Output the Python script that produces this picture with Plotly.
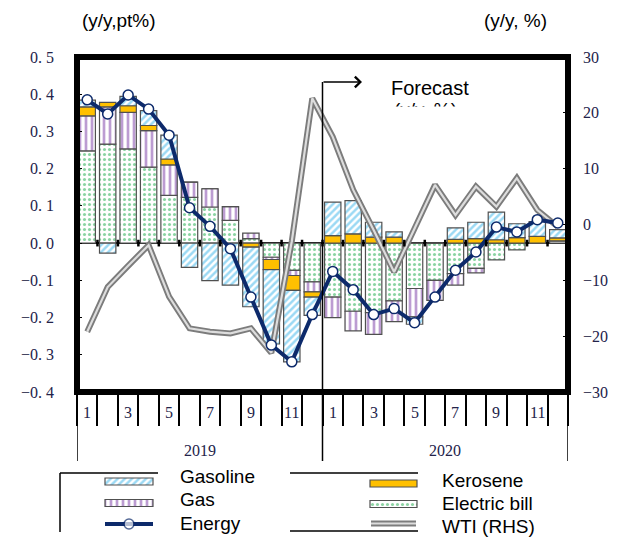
import plotly.graph_objects as go

W, H = 620, 543

# ---------------- data ----------------
year_labels = ["2019", "2020"]
month_numbers = [1, 2, 3, 4, 5, 6, 7, 8, 9, 10, 11, 12]

gasoline = [0.018, -0.027, 0.025, 0.040, 0.064, -0.065, -0.101, -0.113, -0.160, -0.200, -0.192, -0.049,
            0.090, 0.089, 0.040, 0.014, -0.020, 0.000, 0.031, 0.044, 0.074, 0.037, 0.040, 0.022]
kerosene = [0.024, 0.012, 0.018, 0.014, 0.016, 0.000, 0.000, 0.000, -0.011, -0.027, -0.040, -0.014,
            0.020, 0.025, 0.016, 0.016, 0.000, 0.000, 0.010, 0.012, 0.009, 0.015, 0.018, 0.008]
gas = [0.094, 0.100, 0.098, 0.098, 0.082, 0.041, 0.049, 0.037, 0.015, -0.006, -0.014, -0.027,
       -0.055, -0.053, -0.058, -0.056, -0.076, -0.054, -0.031, -0.012, 0.000, 0.000, 0.000, 0.000]
electric = [0.248, 0.266, 0.253, 0.204, 0.128, 0.123, 0.097, 0.061, 0.012, -0.038, -0.073, -0.104,
            -0.145, -0.183, -0.187, -0.155, -0.122, -0.100, -0.082, -0.068, -0.045, -0.018, 0.000, 0.006]
energy = [0.385, 0.347, 0.398, 0.360, 0.290, 0.095, 0.045, -0.015, -0.145, -0.274, -0.319, -0.192,
          -0.076, -0.125, -0.192, -0.176, -0.214, -0.145, -0.073, -0.024, 0.043, 0.030, 0.063, 0.054]
wti = [-19.2, -11.2, -7.4, -3.7, -12.9, -18.6, -19.2, -19.5, -18.6, -23.0, -3.0, 22.6,
       15.7, 6.2, -1.0, -8.5, -0.7, 7.1, 1.7, 6.8, 3.2, 8.3, 2.6, -0.4]

left_ticks = [0.5, 0.4, 0.3, 0.2, 0.1, 0.0, -0.1, -0.2, -0.3, -0.4]
right_ticks = [30, 20, 10, 0, -10, -20, -30]

# ---------------- helpers ----------------
def px(xp):
    return xp / W


def py(yp):
    return 1 - yp / H


SANS = "Liberation Sans, Arial, sans-serif"
SERIF = "Liberation Serif, Times New Roman, serif"
TICKC = "#23234a"
CYAN = "#38b4ea"
PURPLE = "#7a3aa6"
YELLOW = "#ffc000"
GREEN = "#18a845"
NAVY = "#0d2a6b"
OUT = "#505050"
GREY = "#7c7c7c"
GREY_IN = "#dddddd"

n = len(energy)
xs = list(range(n))

styles = {
    "Gasoline": dict(color=CYAN, pattern=dict(shape="/", fgcolor=CYAN, bgcolor="white", size=5, solidity=0.5),
                     line=dict(color=OUT, width=1.2)),
    "Gas": dict(color=PURPLE, pattern=dict(shape="|", fgcolor=PURPLE, bgcolor="white", size=6, solidity=0.45),
                line=dict(color=OUT, width=1.2)),
    "Kerosene": dict(color=YELLOW, line=dict(color=OUT, width=1.2)),
    "Electric bill": dict(color=GREEN, pattern=dict(shape=".", fgcolor=GREEN, bgcolor="white", size=5, solidity=0.3),
                          line=dict(color=OUT, width=1.2)),
}

fig = go.Figure()

# stacked bars (order from zero outward)
for name, vals in [("Electric bill", electric), ("Gas", gas), ("Kerosene", kerosene), ("Gasoline", gasoline)]:
    fig.add_trace(go.Bar(x=xs, y=vals, name=name, marker=styles[name], width=0.8,
                         xaxis="x", yaxis="y", showlegend=False))

# WTI (RHS) double line
fig.add_trace(go.Scatter(x=xs, y=wti, mode="lines", line=dict(color=GREY, width=6),
                         xaxis="x", yaxis="y2", showlegend=False, name="WTI (RHS)"))
fig.add_trace(go.Scatter(x=xs, y=wti, mode="lines", line=dict(color=GREY_IN, width=2.2),
                         xaxis="x", yaxis="y2", showlegend=False, hoverinfo="skip"))

# Energy line on top
fig.add_trace(go.Scatter(x=xs, y=energy, mode="lines+markers", name="Energy",
                         line=dict(color=NAVY, width=4),
                         marker=dict(size=10, color="white", line=dict(color=NAVY, width=1.5)),
                         xaxis="x", yaxis="y3", showlegend=False))

# ---------------- legend (drawn on its own small axes) ----------------
leg_bars = [("Gasoline", 105, 48, 481.5), ("Gas", 105, 48, 503),
            ("Kerosene", 370, 47, 483.5), ("Electric bill", 370, 47, 504)]
for name, x0, wdt, yc in leg_bars:
    fig.add_trace(go.Bar(x=[wdt], base=[x0], y=[yc], width=[7], orientation="h",
                         marker=styles[name], xaxis="x4", yaxis="y4", showlegend=False, hoverinfo="skip"))
fig.add_trace(go.Scatter(x=[105, 129, 153], y=[524, 524, 524], mode="lines+markers",
                         line=dict(color=NAVY, width=4),
                         marker=dict(size=[0, 10, 0], color="white", line=dict(color=NAVY, width=1.5)),
                         xaxis="x4", yaxis="y4", showlegend=False, hoverinfo="skip"))
fig.add_trace(go.Scatter(x=[371, 416], y=[523.5, 523.5], mode="lines", line=dict(color=GREY, width=6),
                         xaxis="x4", yaxis="y4", showlegend=False, hoverinfo="skip"))
fig.add_trace(go.Scatter(x=[371, 416], y=[523.5, 523.5], mode="lines", line=dict(color=GREY_IN, width=2.2),
                         xaxis="x4", yaxis="y4", showlegend=False, hoverinfo="skip"))

annotations = []
shapes = []

leg_texts = [("Gasoline", 178, 476), ("Gas", 178, 499.5), ("Energy", 178, 523.5),
             ("Kerosene", 440, 480), ("Electric bill", 440, 503), ("WTI (RHS)", 440, 526)]
for t, xx, yy in leg_texts:
    annotations.append(dict(text=t, x=px(xx), y=py(yy), xref="paper", yref="paper",
                            xanchor="left", yanchor="middle", showarrow=False,
                            font=dict(family=SANS, size=19, color="black")))

for (x0, y0, x1, y1) in [(60, 473, 158, 473), (60, 473, 60, 532), (290, 473, 418, 473), (290, 531, 418, 531)]:
    shapes.append(dict(type="line", xref="paper", yref="paper", x0=px(x0), y0=py(y0), x1=px(x1), y1=py(y1),
                       line=dict(color="black", width=1.5)))

# ---------------- axis decorations ----------------
x_left, x_right, y_top, y_bot = 77, 568, 57, 392
boundaries = [i - 0.5 for i in range(n + 1)]

# month labels (odd months) and year labels
for yi, yr in enumerate(year_labels):
    for mi, m in enumerate(month_numbers):
        if m % 2 == 1:
            annotations.append(dict(text=str(m), x=yi * len(month_numbers) + mi, y=py(412),
                                    xref="x", yref="paper", xanchor="center", yanchor="middle",
                                    showarrow=False, font=dict(family=SERIF, size=16, color=TICKC)))
    annotations.append(dict(text=yr, x=yi * len(month_numbers) + (len(month_numbers) - 1) / 2, y=py(450),
                            xref="x", yref="paper", xanchor="center", yanchor="middle",
                            showarrow=False, font=dict(family=SERIF, size=16, color=TICKC)))

# year dividers
for k in range(len(year_labels) + 1):
    xv = k * len(month_numbers) - 0.5
    shapes.append(dict(type="line", xref="x", yref="paper", x0=xv, x1=xv, y0=py(y_bot), y1=py(461),
                       line=dict(color="black", width=1.5)))

# small marks on zero line between bars
for b in boundaries[1:-1]:
    shapes.append(dict(type="line", xref="x", yref="y", x0=b, x1=b, y0=-0.009, y1=0.009,
                       line=dict(color="black", width=2.5)))

# forecast marker
fc = len(month_numbers) - 0.5
shapes.append(dict(type="line", xref="x", yref="paper", x0=fc, x1=fc, y0=py(y_bot), y1=py(82),
                   line=dict(color="black", width=1.5)))
annotations.append(dict(text="", x=px(362), y=py(82), xref="paper", yref="paper", showarrow=True,
                        ax=-40, ay=0, arrowhead=4, arrowsize=1.4, arrowwidth=1.5, arrowcolor="black"))
annotations.append(dict(text="Forecast", x=px(389), y=py(88), xref="paper", yref="paper",
                        xanchor="left", yanchor="middle", showarrow=False,
                        font=dict(family=SANS, size=20, color="black")))
annotations.append(dict(text="(y/y, %)", x=px(392), y=py(97), xref="paper", yref="paper",
                        xanchor="left", yanchor="top", showarrow=False,
                        font=dict(family=SANS, size=19, color="black")))
annotations.append(dict(text="", x=px(385), y=py(106), xref="paper", yref="paper",
                        xanchor="left", yanchor="top", showarrow=False, width=100, height=22,
                        bgcolor="white", borderpad=0))

# axis titles
annotations.append(dict(text="(y/y,pt%)", x=px(80), y=py(20), xref="paper", yref="paper",
                        xanchor="left", yanchor="middle", showarrow=False,
                        font=dict(family=SANS, size=19, color="black")))
annotations.append(dict(text="(y/y, %)", x=px(482), y=py(20), xref="paper", yref="paper",
                        xanchor="left", yanchor="middle", showarrow=False,
                        font=dict(family=SANS, size=19, color="black")))

# thick frame
shapes.append(dict(type="rect", xref="paper", yref="paper", x0=px(x_left), x1=px(x_right),
                   y0=py(y_bot), y1=py(y_top), line=dict(color="black", width=6)))


def fmt_left(v):
    s = f"{abs(v):.1f}".replace(".", ". ")
    return ("\u2212" if v < 0 else "") + s


def fmt_right(v):
    return ("\u2212" if v < 0 else "") + str(abs(v))


fig.update_layout(
    width=W, height=H,
    margin=dict(l=0, r=0, t=0, b=0),
    paper_bgcolor="white", plot_bgcolor="rgba(0,0,0,0)",
    barmode="relative",
    showlegend=False,
    hovermode=False,
    xaxis=dict(domain=[px(x_left), px(x_right)], range=[-0.5, n - 0.5], tickvals=boundaries,
               showticklabels=False, ticks="outside", ticklen=33, tickwidth=1.5, tickcolor="black",
               showgrid=False, zeroline=False, showline=False, automargin=False),
    yaxis=dict(domain=[py(y_bot), py(y_top)], range=[-0.4, 0.5], tickvals=left_ticks,
               ticktext=[fmt_left(v) for v in left_ticks], ticks="inside", ticklen=5, tickcolor="black",
               tickfont=dict(family=SERIF, size=16, color=TICKC), ticklabelstandoff=22,
               showgrid=False, zeroline=True, zerolinecolor="black", zerolinewidth=1.5,
               showline=False, automargin=False),
    yaxis2=dict(overlaying="y", side="right", anchor="x", range=[-30, 30], tickvals=right_ticks,
                ticktext=[fmt_right(v) for v in right_ticks], ticks="inside", ticklen=5, tickcolor="black",
                tickfont=dict(family=SERIF, size=16, color=TICKC), ticklabelstandoff=14,
                showgrid=False, zeroline=False, showline=False, automargin=False),
    yaxis3=dict(overlaying="y", anchor="x", range=[-0.4, 0.5], visible=False),
    xaxis4=dict(domain=[0, 1], range=[0, W], visible=False, anchor="y4"),
    yaxis4=dict(domain=[0, py(462)], range=[H, 462], visible=False, anchor="x4"),
    annotations=annotations,
    shapes=shapes,
)

fig.write_html("out.html", config={"displayModeBar": False},
               post_script="document.body.style.margin='0px';")
